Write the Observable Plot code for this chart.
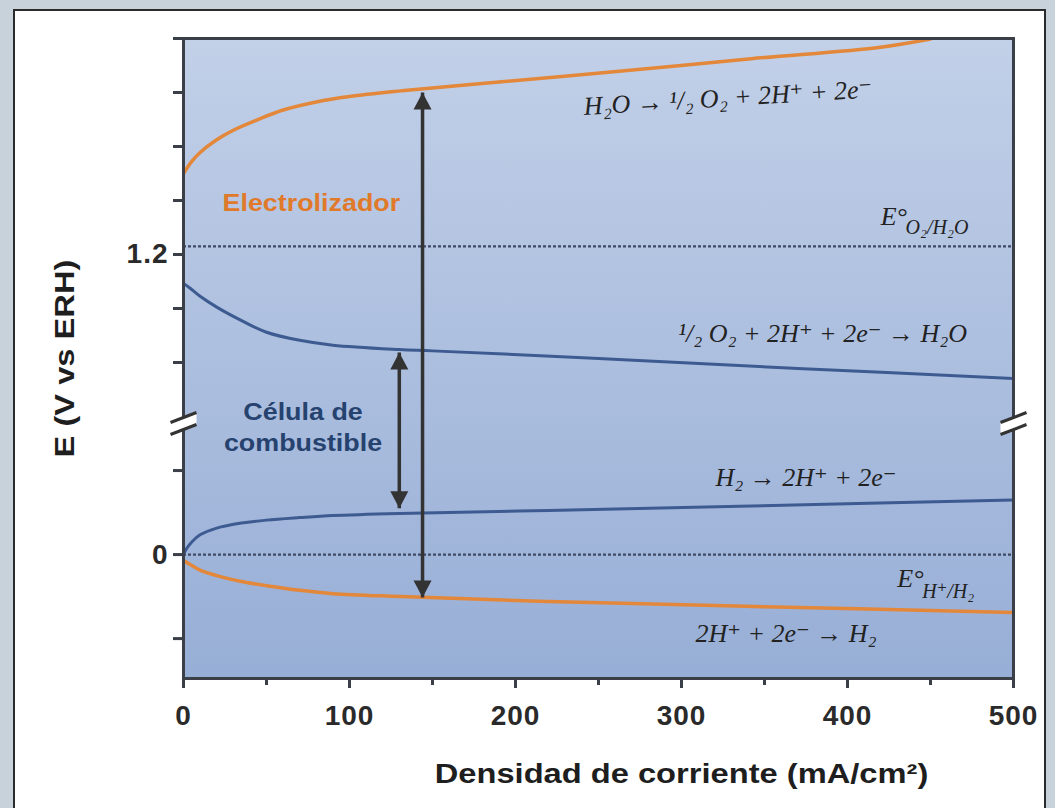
<!DOCTYPE html>
<html><head><meta charset="utf-8">
<script src="https://cdn.jsdelivr.net/npm/d3@7"></script>
<script src="https://cdn.jsdelivr.net/npm/@observablehq/plot@0.6"></script>
<style>
html,body{margin:0;padding:0;background:#c8d2da;width:1055px;height:808px;overflow:hidden;}
#panel{position:absolute;left:13px;top:9px;width:1029px;height:830px;background:#fff;border:2px solid #2b2b2b;}
#chart{position:absolute;left:0;top:0;}
g[aria-label$="tick label"] text{letter-spacing:1px}
</style></head><body><div id="panel"><div id="chart"></div></div>
<script>
// ---- data (current density mA/cm², potential V vs RHE) ----
const anodeX = [0, 5, 10, 20, 30, 45, 60, 80, 100, 131, 173, 251, 342, 420, 450];
const anodeY = [1.50, 1.545, 1.578, 1.625, 1.66, 1.70, 1.735, 1.765, 1.785, 1.806, 1.830, 1.872, 1.925, 1.968, 1.998];
const cathodeX = [0, 5, 10, 20, 35, 50, 70, 90, 131, 220, 350, 500];
const cathodeY = [-0.014, -0.026, -0.037, -0.05, -0.064, -0.074, -0.085, -0.093, -0.100, -0.112, -0.124, -0.138];
const orrX = [0, 4, 10, 20, 35, 50, 70, 90, 130, 150, 250, 370, 500];
const orrY = [1.093, 1.075, 1.045, 1.005, 0.955, 0.912, 0.882, 0.864, 0.848, 0.843, 0.815, 0.778, 0.741];
const horX = [0, 2, 5, 10, 20, 35, 50, 70, 90, 130, 220, 335, 500];
const horY = [0, 0.015, 0.03, 0.047, 0.063, 0.075, 0.082, 0.088, 0.093, 0.098, 0.105, 0.115, 0.13];
const refLevels = [1.23, 0];
const arrowX = [144, 130];
const arrowTop = [1.80, 0.837];
const arrowBottom = [-0.102, 0.11];
const xMajorTicks = [0, 100, 200, 300, 400, 500];
const xMinorTicks = [50, 150, 250, 350, 450];
const yTicks = [-0.2, 0, 0.2, 0.8, 1.0, 1.2, 1.4, 1.6, 1.8, 2.0];
const yTickLabels = ["1.2", "0"];
const xTitle = "Densidad de corriente (mA/cm²)";
const yTitle = "E (V vs ERH)";

const pts = (xs, ys) => xs.map((x, i) => ({x, y: ys[i]}));
const orange = "#e3873a", blue = "#3d5b91", dark = "#333333";

const triUp = {draw(c){c.moveTo(0,0);c.lineTo(-9,17);c.lineTo(9,17);c.closePath();}};
const triDown = {draw(c){c.moveTo(0,0);c.lineTo(-9,-17);c.lineTo(9,-17);c.closePath();}};
const breakFill = {draw(c){c.moveTo(-13,-1);c.lineTo(13,-11);c.lineTo(13,1);c.lineTo(-13,11);c.closePath();}};
const breakLines = {draw(c){c.moveTo(-13,-1);c.lineTo(13,-11);c.moveTo(-13,11);c.lineTo(13,1);}};

const arrows = arrowX.map((x, i) => ({x, top: arrowTop[i], bottom: arrowBottom[i]}));
const eqFont = "'Liberation Serif', 'DejaVu Serif', serif";
const eq = {fontSize: 26, fontStyle: "italic", fontFamily: eqFont, fill: "#222", text: d => d};

const plot = Plot.plot({
  width: 1029, height: 797,
  marginLeft: 168, marginRight: 31, marginTop: 27, marginBottom: 130,
  style: {background: "transparent", fontFamily: "'Liberation Sans', Arial, sans-serif", overflow: "visible", color: "#2a2a2a"},
  x: {domain: [0, 500], axis: null},
  y: {type: "linear", domain: [-0.295, 0.312, 0.574, 2.0], range: [667, 412, 412, 27], axis: null},
  marks: [
    Plot.frame({fill: "url(#bgGrad)", stroke: "none"}),
    Plot.ruleY(refLevels, {stroke: "#3f4a66", strokeWidth: 2.2, strokeDasharray: "3,2"}),
    Plot.line(pts(anodeX, anodeY), {x: "x", y: "y", stroke: orange, strokeWidth: 3.5, curve: "catmull-rom", clip: true}),
    Plot.line(pts(cathodeX, cathodeY), {x: "x", y: "y", stroke: orange, strokeWidth: 3.5, curve: "catmull-rom", clip: true}),
    Plot.line(pts(orrX, orrY), {x: "x", y: "y", stroke: blue, strokeWidth: 3, curve: "catmull-rom", clip: true}),
    Plot.line(pts(horX, horY), {x: "x", y: "y", stroke: blue, strokeWidth: 3, curve: "catmull-rom", clip: true}),
    Plot.link(arrows, {x1: "x", x2: "x", y1: "top", y2: "bottom", stroke: dark, strokeWidth: 3.5}),
    Plot.dot(arrows, {x: "x", y: "top", symbol: triUp, fill: dark, stroke: "none", r: 5}),
    Plot.dot(arrows, {x: "x", y: "bottom", symbol: triDown, fill: dark, stroke: "none", r: 5}),
    // labels
    Plot.text(["Electrolizador"], {x: 77, y: 1.389, text: d => d, fill: "#e07a2a", fontSize: 24, fontWeight: "bold", ariaLabel: () => "labels"}),
    Plot.text(["Célula de", "combustible"], {x: 72, y: [0.615, 0.264], text: d => d, fill: "#26426f", fontSize: 24, fontWeight: "bold", ariaLabel: () => "labels"}),
    // equations
    Plot.text(["H₂O → ¹/₂ O₂ + 2H⁺ + 2e⁻"], {x: 328, y: 1.78, rotate: -3.5, ...eq}),
    Plot.text(["E°"], {x: 420, y: 1.341, textAnchor: "start", ...eq}),
    Plot.text(["O₂/H₂O"], {x: 435, y: 1.30, textAnchor: "start", ...eq, fontSize: 20}),
    Plot.text(["¹/₂ O₂ + 2H⁺ + 2e⁻ → H₂O"], {x: 385, y: 0.905, ...eq}),
    Plot.text(["H₂ → 2H⁺ + 2e⁻"], {x: 375, y: 0.183, ...eq}),
    Plot.text(["E°"], {x: 430, y: -0.057, textAnchor: "start", ...eq}),
    Plot.text(["H⁺/H₂"], {x: 445, y: -0.088, textAnchor: "start", ...eq, fontSize: 20}),
    Plot.text(["2H⁺ + 2e⁻ → H₂"], {x: 363, y: -0.188, ...eq}),
    // frame + axes
    Plot.frame({stroke: "#3a3f48", strokeWidth: 3}),
    Plot.axisY(yTicks, {label: null, tickSize: 10, tickPadding: 5, strokeWidth: 3, stroke: "#3a3f48", fontSize: 28, fontWeight: "bold", tickFormat: d => yTickLabels.includes(String(d)) ? String(d) : ""}),
    Plot.axisX(xMajorTicks, {label: null, tickSize: 10, tickPadding: 17, strokeWidth: 3, stroke: "#3a3f48", fontSize: 28, fontWeight: "bold", tickFormat: d => String(d)}),
    Plot.axisX(xMinorTicks, {label: null, tickSize: 7, strokeWidth: 3, stroke: "#3a3f48", tickFormat: () => ""}),
    Plot.text([yTitle], {frameAnchor: "left", dx: -118, rotate: -90, textAnchor: "middle", text: d => d, fontSize: 27, fontWeight: "bold", fill: "#1e1e1e", ariaLabel: () => "titles"}),
    Plot.text([xTitle], {x: 300, frameAnchor: "bottom", dy: 104, textAnchor: "middle", text: d => d, fontSize: 27, fontWeight: "bold", fill: "#1e1e1e", ariaLabel: () => "titles"}),
    // axis breaks
    Plot.dot([0, 500], {x: d => d, y: 0.312, symbol: breakFill, fill: "white", stroke: "none", r: 5}),
    Plot.dot([0, 500], {x: d => d, y: 0.312, symbol: breakLines, fill: "none", stroke: dark, strokeWidth: 3, r: 5})
  ]
});
const svg = d3.select(plot);
const grad = svg.insert("defs", ":first-child").append("linearGradient")
  .attr("id", "bgGrad").attr("x1", 0).attr("y1", 0).attr("x2", 0).attr("y2", 1);
grad.append("stop").attr("offset", "0%").attr("stop-color", "#c2d0e8");
grad.append("stop").attr("offset", "100%").attr("stop-color", "#97aed6");
// widen the bold labels horizontally (the reference uses a wide face)
function stretch(selector, s) {
  svg.selectAll(selector).each(function () {
    const t = d3.select(this);
    const xa = t.attr("x");
    const x = xa !== null && !isNaN(+xa) ? +xa : 0;
    if (xa !== null && !isNaN(+xa)) t.attr("x", null);
    const tr = t.attr("transform") || "";
    t.attr("transform", `${tr} translate(${x},0) scale(${s},1)`);
  });
}
stretch('text[aria-label="titles"]', 1.21);
stretch('text[aria-label="labels"]', 1.12);
document.getElementById("chart").appendChild(plot);
</script></body></html>
